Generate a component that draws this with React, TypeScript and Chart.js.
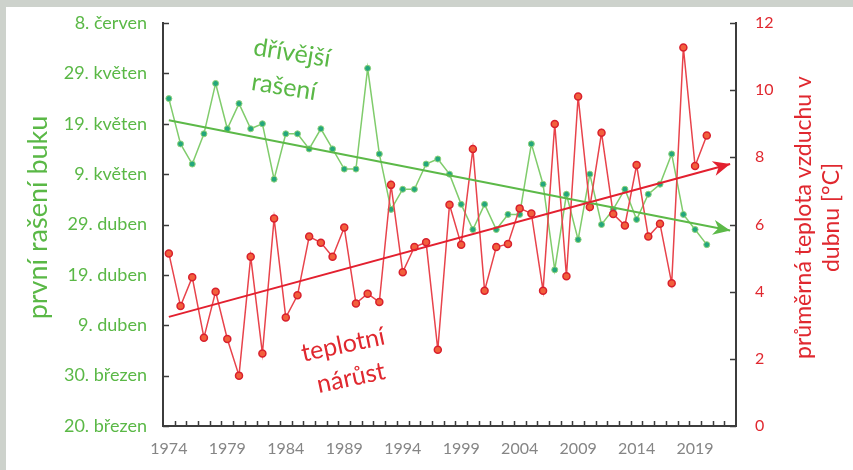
import React, { useEffect, useRef } from "react";
import { Chart, registerables } from "chart.js";

Chart.register(...registerables);

// ---- data ----
const YEAR_LABELS = [
  "1974", "1975", "1976", "1977", "1978", "1979", "1980", "1981", "1982", "1983",
  "1984", "1985", "1986", "1987", "1988", "1989", "1990", "1991", "1992", "1993",
  "1994", "1995", "1996", "1997", "1998", "1999", "2000", "2001", "2002", "2003",
  "2004", "2005", "2006", "2007", "2008", "2009", "2010", "2011", "2012", "2013",
  "2014", "2015", "2016", "2017", "2018", "2019", "2020", "2021", "2022",
];

// first budburst, days after 20 March
const BUDBURST_DAYS = [
  65, 56, 52, 58, 68, 59, 64, 59, 60, 49,
  58, 58, 55, 59, 55, 51, 51, 71, 54, 43,
  47, 47, 52, 53, 50, 44, 39, 44, 39, 42,
  42, 56, 48, 31, 46, 37, 50, 40, 43, 47,
  41, 46, 48, 54, 42, 39, 36,
];

// mean April air temperature [°C]
const APRIL_TEMP = [
  5.14, 3.57, 4.43, 2.63, 4.0, 2.59, 1.5, 5.04, 2.16, 6.18,
  3.23, 3.89, 5.64, 5.46, 5.04, 5.91, 3.65, 3.94, 3.69, 7.18,
  4.58, 5.33, 5.47, 2.27, 6.59, 5.4, 8.25, 4.03, 5.33, 5.42,
  6.48, 6.33, 4.03, 8.99, 4.46, 9.81, 6.52, 8.73, 6.31, 5.97,
  7.77, 5.64, 6.02, 4.25, 11.27, 7.74, 8.65,
];

const TREND_YEARS = ["1974", "2022"];
const BUDBURST_TREND = [60.7, 38.8];
const TEMP_TREND = [3.25, 7.8];

const DATE_TICK_LABELS = [
  "20. březen", "30. březen", "9. duben", "19. duben", "29. duben",
  "9. květen", "19. květen", "29. květen", "8. červen",
];
const TEMP_TICKS = [0, 2, 4, 6, 8, 10, 12];

// ---- style ----
const FONT = "Lato, 'Open Sans', sans-serif";
const GREEN_TEXT = "#5ab846";
const RED_TEXT = "#e0282f";
const AXIS = "#3c3c3c";

const drawStealth = (ctx: CanvasRenderingContext2D, x: number, y: number, ang: number, color: string) => {
  const L = 17, W = 7.5, N = 5;
  ctx.save();
  ctx.translate(x, y);
  ctx.rotate(ang);
  ctx.fillStyle = color;
  ctx.beginPath();
  ctx.moveTo(0, 0);
  ctx.lineTo(-L, -W);
  ctx.lineTo(-L + N, 0);
  ctx.lineTo(-L, W);
  ctx.closePath();
  ctx.fill();
  ctx.restore();
};

const decorPlugin = {
  id: "decor",
  afterDatasetsDraw(chart: any) {
    const ctx: CanvasRenderingContext2D = chart.ctx;
    const { left, right, bottom } = chart.chartArea;
    const yL = chart.scales.y;
    const yR = chart.scales.y1;
    const xs = chart.scales.x;
    ctx.save();
    ctx.strokeStyle = AXIS;
    ctx.lineWidth = 1.5;
    ctx.beginPath();
    yL.ticks.forEach((t: any) => {
      const py = Math.round(yL.getPixelForValue(t.value)) + 0.5;
      ctx.moveTo(left, py);
      ctx.lineTo(left + 6, py);
    });
    yR.ticks.forEach((t: any) => {
      const py = Math.round(yR.getPixelForValue(t.value)) + 0.5;
      ctx.moveTo(right, py);
      ctx.lineTo(right - 6, py);
    });
    for (let i = 0; i < xs.ticks.length - 1; i++) {
      const px = Math.round((xs.getPixelForTick(i) + xs.getPixelForTick(i + 1)) / 2) + 0.5;
      ctx.moveTo(px, bottom);
      ctx.lineTo(px, bottom - 5);
    }
    ctx.stroke();
    ctx.restore();

    // arrow heads on trend lines
    chart.data.datasets.forEach((ds: any, i: number) => {
      if (!ds.arrow) return;
      const pts = chart.getDatasetMeta(i).data;
      const a = pts[0], b = pts[pts.length - 1];
      const ang = Math.atan2(b.y - a.y, b.x - a.x);
      drawStealth(ctx, b.x, b.y, ang, ds.borderColor);
    });
  },
  afterDraw(chart: any) {
    const ctx: CanvasRenderingContext2D = chart.ctx;
    const { left, right, top, bottom } = chart.chartArea;
    const midY = (top + bottom) / 2 - 7;
    const text = (s: string, x: number, y: number, rot: number, color: string, size: number) => {
      ctx.save();
      ctx.translate(x, y);
      ctx.rotate(rot);
      ctx.fillStyle = color;
      ctx.font = `${size}px ${FONT}`;
      ctx.textAlign = "center";
      ctx.textBaseline = "middle";
      ctx.fillText(s, 0, 0);
      ctx.restore();
    };
    // axis titles
    text("první rašení buku", left - 125, midY, -Math.PI / 2, GREEN_TEXT, 27);
    text("průměrná teplota vzduchu v", right + 68, midY, -Math.PI / 2, RED_TEXT, 23);
    text("dubnu [°C]", right + 96, midY, -Math.PI / 2, RED_TEXT, 23);
    // annotations
    const deg = Math.PI / 180;
    text("dřívější", left + 129, top + 30, 9 * deg, GREEN_TEXT, 25);
    text("rašení", left + 121, top + 64, 9 * deg, GREEN_TEXT, 25);
    text("teplotní", left + 180, bottom - 81, -12 * deg, RED_TEXT, 25);
    text("nárůst", left + 188, bottom - 48, -12 * deg, RED_TEXT, 25);
  },
};

const noVerticalPadding = (s: any) => {
  s.paddingTop = 0;
  s.paddingBottom = 0;
};

export default function App() {
  const ref = useRef<HTMLCanvasElement | null>(null);

  useEffect(() => {
    if (!ref.current) return;
    const chart = new Chart(ref.current, {
      type: "line",
      data: {
        labels: YEAR_LABELS,
        datasets: [
          {
            label: "rašení",
            data: BUDBURST_DAYS,
            yAxisID: "y",
            borderColor: "#80cc6c",
            borderWidth: 1.5,
            pointRadius: 3,
            pointBackgroundColor: "#23a77c",
            pointBorderColor: "#8fd27a",
            pointBorderWidth: 1,
            tension: 0,
            order: 4,
          },
          {
            label: "teplota",
            data: APRIL_TEMP,
            yAxisID: "y1",
            borderColor: "#e8434b",
            borderWidth: 1.5,
            pointRadius: 3.5,
            pointBackgroundColor: "#f2603c",
            pointBorderColor: "#d9202d",
            pointBorderWidth: 1.5,
            tension: 0,
            order: 3,
          },
          {
            label: "trend rašení",
            data: TREND_YEARS.map((x, i) => ({ x, y: BUDBURST_TREND[i] })),
            yAxisID: "y",
            borderColor: "#5cb948",
            borderWidth: 2,
            pointRadius: 0,
            order: 2,
            arrow: true,
          } as any,
          {
            label: "trend teplota",
            data: TREND_YEARS.map((x, i) => ({ x, y: TEMP_TREND[i] })),
            yAxisID: "y1",
            borderColor: "#e3202f",
            borderWidth: 2,
            pointRadius: 0,
            order: 1,
            arrow: true,
          } as any,
        ],
      },
      options: {
        responsive: false,
        animation: false,
        layout: { padding: { top: 16, left: 0, right: 0, bottom: 0 } },
        plugins: { legend: { display: false }, tooltip: { enabled: false } },
        scales: {
          x: {
            type: "category",
            offset: true,
            grid: { display: false, drawTicks: false, offset: true },
            border: { display: true, color: AXIS, width: 2 },
            ticks: {
              autoSkip: false,
              maxRotation: 0,
              minRotation: 0,
              padding: 13,
              color: "#858585",
              font: { family: FONT, size: 16 },
              callback: (_v: any, i: number) => (i % 5 === 0 ? YEAR_LABELS[i] : ""),
            },
            afterFit: (s: any) => {
              s.height = 44;
              s.paddingLeft = 0;
              s.paddingRight = 0;
            },
          },
          y: {
            type: "linear",
            position: "left",
            min: 0,
            max: 80,
            grid: { display: false, drawTicks: false },
            border: { display: true, color: AXIS, width: 2 },
            ticks: {
              stepSize: 10,
              padding: 16,
              color: GREEN_TEXT,
              font: { family: FONT, size: 18 },
              callback: (v: any) => DATE_TICK_LABELS[Math.round(Number(v) / 10)],
            },
            afterFit: (s: any) => {
              s.width = 157;
              noVerticalPadding(s);
            },
          },
          y1: {
            type: "linear",
            position: "right",
            min: TEMP_TICKS[0],
            max: TEMP_TICKS[TEMP_TICKS.length - 1],
            grid: { display: false, drawTicks: false },
            border: { display: true, color: AXIS, width: 2 },
            ticks: {
              stepSize: 2,
              padding: 19,
              color: RED_TEXT,
              font: { family: FONT, size: 16 },
            },
            afterFit: (s: any) => {
              s.width = 117;
              noVerticalPadding(s);
            },
          },
        },
      },
      plugins: [decorPlugin],
    });
    return () => chart.destroy();
  }, []);

  return (
    <div
      style={{
        position: "fixed",
        left: 0,
        top: 0,
        width: 853,
        height: 470,
        background: "#cdd2cc",
      }}
    >
      <canvas
        ref={ref}
        width={847}
        height={463}
        style={{ position: "absolute", left: 6, top: 7, background: "#ffffff" }}
      />
    </div>
  );
}
